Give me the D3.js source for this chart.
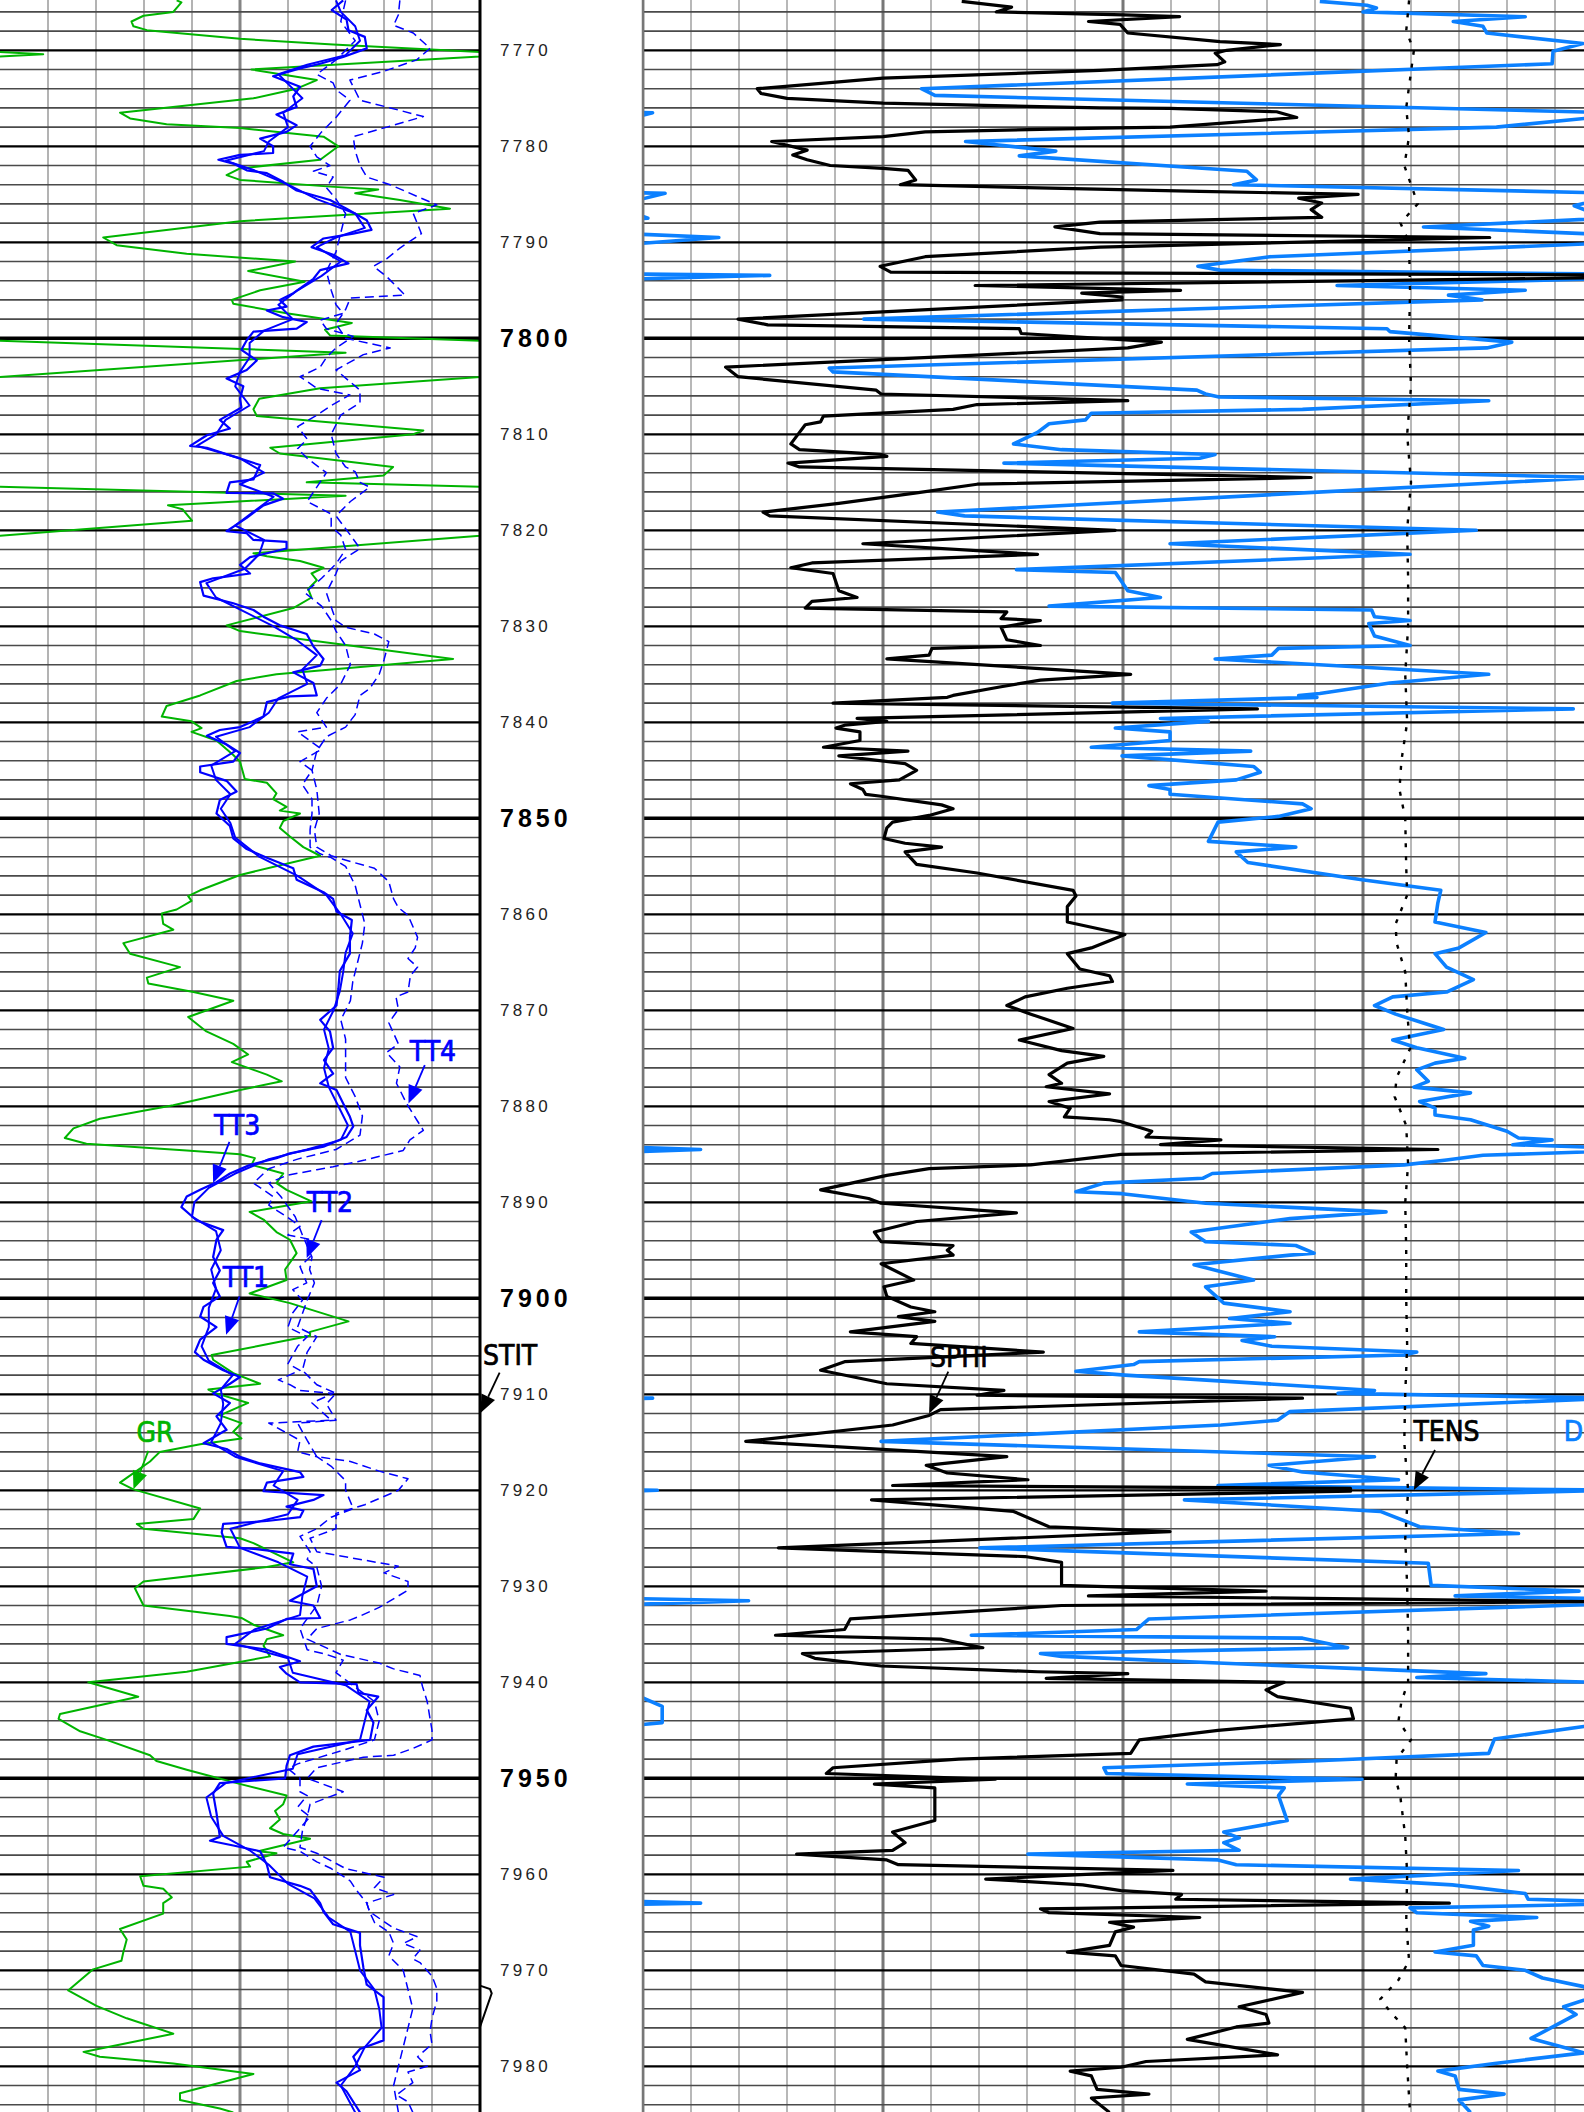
<!DOCTYPE html>
<html><head><meta charset="utf-8">
<script src="https://cdn.jsdelivr.net/npm/d3@7"></script>
<style>html,body{margin:0;padding:0;background:#fff;overflow:hidden}</style>
</head><body><svg id="chart" width="1584" height="2112" xmlns="http://www.w3.org/2000/svg"></svg>
<script>
// ---------------- DATA (depth in ft, value in track units) ----------------
const depthRange = [7764.76, 7984.76];
const depthTicks = [7770,7780,7790,7800,7810,7820,7830,7840,7850,7860,7870,7880,7890,7900,7910,7920,7930,7940,7950,7960,7970,7980];

// Left track: GR (0-100, wraps with backup), TT1..TT4 (0-100)
const GR = [[7764.8,36.8],[7765.0,37.8],[7766.0,36.1],[7766.4,29.9],[7767.0,27.4],[7767.5,27.8],[7767.9,30.6],[7768.8,50],[7769.4,69.4],[7770.4,109],[7772.0,52.4],[7773.1,66],[7774.0,61.8],[7775.0,52.8],[7776.5,25],[7777.1,27.1],[7777.7,34.7],[7778.1,50],[7779.0,67.4],[7780.0,70.5],[7781.4,66.7],[7782.3,50],[7783.0,47.2],[7783.5,50],[7784.2,68.8],[7784.5,78.8],[7784.9,74],[7785.6,83.3],[7786.5,93.75],[7787.8,50],[7789.5,21.5],[7790.3,24.3],[7791.2,38.9],[7792.0,61.5],[7793.0,51.7],[7794.1,63.5],[7795.0,54.2],[7796.0,48.3],[7796.4,48.6],[7797.4,59.7],[7798.4,73.3],[7799.1,67.7],[7799.7,68.75],[7801.5,172],[7805.2,66.7],[7806.3,54],[7807.4,52.8],[7808.1,53.5],[7809.6,88.2],[7810.0,86.1],[7811.4,56.3],[7812.0,58.3],[7813.4,81.9],[7814.3,79.9],[7815.0,63.9],[7816.4,172],[7817.4,135],[7817.8,138],[7819.0,140],[7822.4,52.8],[7822.7,55.6],[7823.2,62.5],[7823.9,67.4],[7824.5,64.9],[7825.2,66],[7826.1,64.2],[7827.0,64.9],[7828.1,61.1],[7829.9,47.2],[7830.5,50],[7833.4,94.4],[7835.0,57.6],[7835.7,49.3],[7837.2,41.7],[7838.3,34.7],[7839.4,33.7],[7839.9,39.9],[7840.6,42],[7841.0,39.9],[7841.9,45.1],[7843.4,48.6],[7844.1,50],[7845.9,51],[7846.3,55.6],[7847.4,57.6],[7848.0,56.9],[7848.8,59.7],[7849.2,58.3],[7849.5,62.5],[7850.3,59],[7851.0,58.3],[7851.9,60.4],[7853.0,63.2],[7853.9,66.7],[7855.9,50],[7857.5,41.7],[7858.1,39.2],[7858.6,39.9],[7859.5,36.8],[7859.9,33.7],[7861.0,34],[7861.6,36.1],[7863.0,25.7],[7864.1,27.1],[7865.5,37.5],[7866.6,30.6],[7867.2,30.9],[7868.1,40.3],[7869.0,48.6],[7870.7,39.2],[7872.2,43],[7873.5,48.6],[7874.6,51.7],[7875.4,48.3],[7876.7,55.6],[7877.4,58.7],[7878.3,50],[7879.9,36.1],[7881.3,20.8],[7882.3,15.3],[7883.3,13.5],[7883.9,18],[7884.6,38.9],[7885,50],[7885.4,53.1],[7886.1,52.4],[7887,59],[7888,57.6],[7888.7,59.7],[7889.9,64.9],[7891,52],[7891.8,54.9],[7893.1,57.6],[7893.9,60.4],[7895.3,61.8],[7897,59.4],[7898.1,59.7],[7899.5,52],[7900.5,60.4],[7902.4,72.6],[7903.5,64.6],[7903.9,64.6],[7905,53.5],[7905.9,44.1],[7906.4,44.4],[7907.8,48.6],[7908.9,54.2],[7909.5,43.4],[7909.9,45],[7910.9,51.7],[7912.2,45.8],[7913,50.3],[7913.9,48.6],[7914.6,50.3],[7915.2,41.7],[7916,33.3],[7917,31.25],[7918.7,26.4],[7919.2,25],[7919.9,27.8],[7921.9,41.7],[7923.0,40.3],[7923.5,28.5],[7924,29.9],[7925.0,50],[7925.5,52.8],[7927.5,61.1],[7928,55.6],[7929.5,29.9],[7930.2,28.1],[7932,29.9],[7933.1,47.9],[7933.3,50.3],[7934,52.8],[7935.1,59],[7935.5,55.6],[7936.2,54.9],[7937.3,56.25],[7938.9,38.9],[7940,18.4],[7941.5,28.8],[7943.3,12.5],[7943.8,12.2],[7945.1,16.7],[7946,22.2],[7947.6,31.25],[7948.2,32.6],[7949.1,38.9],[7950.5,49.3],[7951.8,59.7],[7952.7,59],[7953.4,57.3],[7954.3,58.3],[7955.2,56.25],[7955.8,59],[7956.3,64.6],[7957.6,53.8],[7957.8,57.6],[7958.7,51.4],[7959.2,52.1],[7960.2,29.2],[7961.2,29.9],[7961.5,34],[7962.4,35.8],[7963,34],[7964.1,34],[7965.7,25],[7966.8,26.4],[7968.1,25.7],[7969,25.3],[7969.9,19.4],[7972.1,14.2],[7973.7,20.1],[7975,26.4],[7976.6,36.1],[7978.5,17.4],[7979.0,20.8],[7979.7,36.1],[7980.8,52.8],[7982.8,37.5],[7983.5,37.5],[7984.4,45.8],[7984.8,48.6]];

const TT1 = [[7764.8,71.5],[7765.8,69.1],[7766.8,72.2],[7767.9,72.6],[7768.6,76],[7769.8,76.4],[7770.7,71.5],[7771.4,66.7],[7771.9,62.5],[7772.7,56.9],[7773.8,62.5],[7774.8,61.1],[7775.9,61.8],[7776.7,57.6],[7777.8,61.8],[7778.5,59.7],[7779.2,54.2],[7780.0,56.9],[7780.7,56.9],[7780.9,50],[7781.4,45.5],[7781.8,48.6],[7782.5,51.4],[7782.8,55.6],[7783.7,59],[7784.6,61.8],[7785.1,65.3],[7785.6,68.75],[7786.5,72.2],[7787.7,76.4],[7788.7,77.4],[7789.1,73.6],[7789.6,67.4],[7790.5,64.9],[7791.3,69.4],[7792.2,72.6],[7792.9,66.7],[7793.8,65.3],[7795.3,61.1],[7796.0,58.3],[7796.7,59.7],[7797.1,55.6],[7797.8,59],[7798.3,63.9],[7799.0,61.8],[7799.3,52.8],[7800.2,51.4],[7801.2,50.3],[7802.3,53.5],[7803.3,51.4],[7804.2,47.2],[7805.0,50.7],[7806.3,50],[7807.2,50.3],[7808.5,45.8],[7809.4,47.9],[7810.1,43.1],[7811.2,39.6],[7811.4,43.1],[7812.3,48.6],[7813.2,54.2],[7814.7,52.8],[7815,47.9],[7816.1,47.2],[7816.15,56.9],[7816.7,59],[7817.4,54.9],[7818.7,51.4],[7820.1,47.2],[7820.3,51.4],[7821,52.8],[7821.2,59.7],[7821.9,59.7],[7822.8,52.1],[7823.6,50],[7824.5,52.1],[7825,44.4],[7825.4,41.7],[7826.8,42.4],[7827.6,48.6],[7828.3,52.8],[7829,54.9],[7829.9,58.3],[7830.8,63.9],[7832.1,65.3],[7833.4,67.4],[7834.1,66.7],[7834.8,61.1],[7835.9,65.3],[7837.2,66],[7837.3,60.4],[7837.9,55.6],[7839.4,54.9],[7840.5,50],[7840.8,45.8],[7841.4,43.1],[7842.3,47.2],[7843.2,50],[7844.1,48.6],[7844.6,41.7],[7845.2,41.7],[7846.1,47.2],[7847.2,49.3],[7848.1,45.8],[7849.5,45.1],[7850.8,47.9],[7852.1,48.6],[7853.2,51.4],[7854.1,55.6],[7855.2,61.1],[7856.4,61.8],[7857.7,67.4],[7858.4,69.4],[7859.7,70.1],[7860.6,73.3],[7862.4,72.9],[7864.1,72.9],[7865.9,70.8],[7867.7,70.5],[7869.5,70.1],[7871.0,66.7],[7872.2,68.75],[7873.9,69.4],[7875.2,67.5],[7876.6,69.4],[7877.6,66.7],[7878.3,70.1],[7879.7,71.5],[7881.1,72.9],[7882.1,73.6],[7883.2,72.2],[7884.2,67.4],[7884.9,60.4],[7885.4,57.6],[7886.1,52.1],[7887,47.9],[7887.9,45.1],[7888.7,41.7],[7889.4,38.9],[7890.5,37.8],[7891.9,41],[7892.9,46.5],[7893.9,45.1],[7895.7,44.4],[7897.1,45.8],[7898.4,44.4],[7899.8,45.8],[7900.9,42.4],[7901.9,41.7],[7903,45.1],[7904.3,41.7],[7905.6,40.6],[7906.4,42.4],[7907.5,46.5],[7908.2,50],[7908.9,47.9],[7909.9,44.4],[7910.9,47.9],[7912.3,45.1],[7913.7,47.2],[7915.1,42.4],[7915.7,47.2],[7916.5,50],[7917.2,54.2],[7918.1,62.5],[7918.6,63.2],[7919.2,55.6],[7920.1,54.9],[7920.5,67.4],[7921,65.3],[7921.7,59.7],[7922.1,63.2],[7922.8,62.5],[7923.2,55.6],[7923.5,46.5],[7924.4,46.2],[7925.9,47.2],[7926.1,52.8],[7926.6,61.1],[7927.7,60.4],[7928.2,65.3],[7930,66],[7931.5,60.4],[7932,65.3],[7933.3,66.7],[7933.4,59.7],[7934.4,55.6],[7935.3,47.2],[7936,47.2],[7936.6,55.6],[7937.8,62.5],[7938.4,58.3],[7939.1,59.7],[7940,62.5],[7940.2,74.3],[7941.1,74.7],[7941.5,78.8],[7942.9,76.4],[7944.2,77.8],[7946,77.1],[7946.7,65.3],[7947.6,60.4],[7948.7,59.7],[7950,59.4],[7950.5,45.8],[7951.6,44.4],[7953.6,45.1],[7956.1,45.8],[7956.5,43.75],[7957,48.6],[7957.6,54.2],[7959,55.6],[7960.3,56.25],[7961.2,62.5],[7961.6,64.6],[7963,66.7],[7963.9,67.4],[7965.2,69.4],[7966.1,75],[7967.4,75],[7969.7,75.7],[7971.5,76.4],[7972.8,79.9],[7974.6,79.9],[7977.3,79.9],[7978.2,75],[7979,73.6],[7980.4,75],[7981.7,70.1],[7982.6,72.2],[7984.8,75]];

const TT3 = [[7764.8,70],[7766,71],[7767.5,74],[7769,75],[7770.5,72],[7771.5,64],[7772.5,58],[7773.5,60],[7775,63],[7776.5,59],[7778,60],[7779.5,56],[7780.5,55],[7781.5,47],[7782.5,53],[7784,60],[7785.5,66],[7787,74],[7788.5,76],[7789.5,70],[7790.5,66],[7792,71],[7793.5,67],[7795,62],[7796.5,58],[7798,61],[7799.2,55],[7800.5,52],[7802,52],[7803.5,50],[7805,49],[7807,52],[7808.5,47],[7810,45],[7811.2,41],[7812.5,50],[7814,55],[7815.2,50],[7816.5,57],[7818,53],[7819.5,49],[7821,55],[7822.5,54],[7824,51],[7825.5,43],[7827,45],[7828.5,51],[7830,57],[7831.5,62],[7833,66],[7834.5,63],[7836,64],[7837.5,58],[7839,56],[7840.5,52],[7841.5,45],[7843,49],[7844.5,44],[7846,45],[7847.5,48],[7849,46],[7850.5,48],[7852,49],[7854,54],[7856,62],[7858,68],[7860,71],[7862,73.5],[7864,72],[7866,71.5],[7868,70.8],[7870,69.5],[7872,67.5],[7874,68.5],[7876,67.5],[7878,68.5],[7880,70.5],[7882,72.5],[7883.5,71],[7884.5,64],[7885.5,56],[7887,49],[7888.5,43.5],[7890,40.5],[7891.5,40],[7893,45],[7895,46],[7897,44],[7899,45],[7901,43.5],[7903,43.5],[7905,42],[7906.5,43.5],[7908,48.5],[7909.5,46],[7911,46.5],[7913,46],[7915,44],[7916.5,49],[7918,59],[7919.5,57],[7921,62],[7922.5,60],[7924,48],[7926,50],[7927.5,58],[7929,64],[7931,63],[7933,62.5],[7934.5,53],[7936,49],[7937.5,60],[7939,61],[7940.3,72],[7942,77],[7944,76],[7946,75],[7947.5,62],[7949,61],[7950.5,47],[7952,43],[7954,44],[7956,46.5],[7957.5,52],[7959,56],[7961,60],[7962.5,65.5],[7964.5,68.5],[7966,73],[7968,74],[7970,75],[7972,78],[7974,79],[7976,79.5],[7978,76],[7980,74],[7982,71],[7984.8,74]];

const TT2 = [[7764.8,72],[7767,71],[7769,74],[7771,70],[7772.5,66],[7773.4,69.4],[7774.1,70],[7775.2,72.9],[7777,70],[7778.5,67],[7780,64.6],[7781.1,66],[7782,68.75],[7782.6,65.3],[7783.2,69.4],[7784.3,68],[7785.5,70],[7787,72],[7789,71],[7791,70],[7793,68],[7795,69],[7796.5,70],[7797.4,71.5],[7798.1,66.7],[7799,68],[7799.8,73.6],[7801,70],[7802,68],[7803,66.7],[7804,62.5],[7805.2,66],[7805.9,72.9],[7807,69],[7808,66],[7809.2,62],[7810.5,64],[7811.5,62],[7812.5,64],[7814,68],[7815.5,66],[7817,64],[7818.3,69],[7819.6,69],[7820.5,71],[7822,72],[7823.5,70],[7825,67],[7826.5,63.5],[7827.9,67],[7829.4,69],[7830.5,70],[7832,72],[7834,73],[7836,71],[7837.5,68],[7839,66],[7840.5,68],[7841,62],[7842.8,67],[7844.1,62.5],[7845,65],[7846.5,63],[7848,65],[7849.5,65],[7851.2,64.6],[7853,64.6],[7853.7,66.7],[7854.1,69],[7855,72],[7857,74],[7859,75],[7861,76],[7863,75.5],[7865,74.5],[7867,73.5],[7869,73],[7871,71],[7873,72],[7875,72],[7877,72],[7879,74],[7881,75.5],[7883,75],[7884.5,70],[7885.5,62],[7886.5,56],[7888,52.8],[7889.4,56.9],[7890.3,56],[7891.5,59.7],[7892.5,62.5],[7893.4,60],[7893.9,65],[7895.7,64.6],[7896.7,62.5],[7898.4,63.9],[7899.1,61],[7900.2,63],[7901.5,61],[7903,60],[7904,64],[7905,62],[7906.8,60],[7907.5,62.5],[7908.5,58],[7909,60.4],[7909.6,62.5],[7909.9,69.4],[7910.9,65],[7912.7,69],[7913,56],[7914.8,62.5],[7916,62],[7916.5,66],[7917.5,69],[7919,72],[7920,72],[7921.9,73.6],[7922.8,69],[7924,66],[7924.8,62.5],[7926.4,64.6],[7927.2,64],[7928,66],[7930,67],[7932,66],[7934.4,62.5],[7936.6,64],[7937.1,68],[7937.7,71.5],[7939,70],[7940.5,74],[7942,78],[7944,79],[7946,78],[7947,72],[7948.5,62],[7949,60],[7950,62.5],[7951.4,62.5],[7951.8,64],[7953,62],[7954,64.6],[7955.5,62],[7957.2,59],[7957.6,62.5],[7958.7,66],[7959.4,69],[7960.7,73],[7961.5,74],[7963,76.4],[7963.9,77],[7965,78],[7966,81],[7967.2,82],[7968.5,81],[7970,84],[7972,85],[7974,86],[7976,85],[7978,84],[7980,83],[7982,82],[7984.8,83]];

const TT4 = [[7764.8,83.3],[7766.3,83],[7767.4,82],[7768.2,86.1],[7769.8,89.6],[7771,86.8],[7772.2,79.9],[7773.1,72.9],[7775.2,75],[7776.0,81.3],[7776.9,88.2],[7778,80.6],[7779,73.6],[7780.5,74],[7782,75],[7783.2,76.4],[7784.0,81.3],[7785.2,86.8],[7786.1,91],[7787,86.1],[7789.1,87.8],[7790.6,83.3],[7791.7,80.6],[7792.5,77.8],[7793.6,80.6],[7794.6,82.6],[7795.5,84.4],[7795.8,73],[7797,72],[7798.5,70],[7800,72],[7801,81.3],[7801.7,75.7],[7803.3,70],[7805.4,75],[7806.7,75],[7808,71],[7810,69],[7812,70],[7813.4,72],[7813.9,74],[7815,75],[7815.5,77],[7817,73],[7818.5,70],[7820.5,73],[7821.9,75],[7823.2,71],[7824.5,70],[7826.5,68],[7828,69],[7829.4,70],[7830.1,72],[7830.8,78],[7831.6,81],[7833.5,80],[7835,79],[7836.5,77],[7837.2,75],[7839.2,74],[7840.5,72],[7841.5,68],[7843,66],[7845,65],[7847,66],[7849.5,66.5],[7851.2,65.5],[7853,66],[7853.9,69],[7854.5,73],[7855.2,78],[7856.6,81],[7858.4,82],[7859.3,83],[7860.1,85],[7862.4,87],[7863.5,86.5],[7864.6,85],[7865.5,87],[7866.4,85.5],[7868.1,85],[7868.6,82.5],[7869.9,83],[7871.3,81],[7873.5,83],[7874.4,80.5],[7875.9,83.3],[7877.6,82.6],[7879.7,84.7],[7881.4,86.8],[7882.5,88.2],[7883.5,85.4],[7884.6,84],[7885.6,76],[7886.3,69.4],[7886.6,66],[7887.2,59.7],[7888,56],[7889.4,58.5],[7891.5,61.5],[7893.4,63],[7895.7,65],[7897,64.5],[7898.4,65.5],[7900.2,64],[7903,62],[7904,66],[7905.6,64],[7907.5,63],[7909,66],[7909.9,70],[7911,68],[7912.7,70],[7913,62],[7914.8,64],[7916.5,66],[7917,73],[7918,79],[7918.8,85],[7920,83],[7921.5,76],[7922.4,70],[7924,70],[7925,64.6],[7926.4,66],[7927.9,83],[7928.6,80],[7929.5,85],[7930.4,85],[7932.2,79],[7933.1,75],[7933.5,73],[7934.4,66],[7935.5,64],[7937.1,71],[7938,79],[7938.6,82],[7939.3,87.5],[7940.4,88],[7942,89],[7943.8,89.6],[7945,90],[7946,90],[7946.9,86],[7947.6,82],[7947.8,75.7],[7948.9,66],[7950,64],[7951.4,71.5],[7952.7,64.6],[7954,64],[7955.5,63],[7957.2,62.5],[7957.8,66],[7958.7,69.4],[7959.4,72],[7960.3,80],[7961.4,78],[7962.1,82],[7963,76.4],[7963.9,77],[7965.6,82],[7966.5,87],[7967.2,84],[7967.9,87.5],[7968.8,86],[7969.2,87.5],[7970.6,90],[7971.9,91],[7973.2,91],[7975,90],[7976.4,89.6],[7977.7,90],[7979,87],[7980,89],[7980.6,85],[7981.7,86],[7983,82.6],[7983.7,85],[7984.8,86]];

// Right track: SPHI, DT (wraps with backup), TENS (0-100)
const SPHI = [[7764.9,33.2],[7765.5,38.4],[7766.0,36.8],[7766.3,50.1],[7766.5,55.9],[7767.0,46.4],[7767.3,49.7],[7768.2,50.5],[7769.1,60.1],[7769.4,66.4],[7770,60.8],[7770.3,59.6],[7771.2,60.6],[7771.5,59.8],[7772.1,47.6],[7772.9,25],[7774,11.9],[7774.5,12.3],[7775,15],[7775.5,25],[7776.0,47.6],[7776.05,54.9],[7776.4,66],[7777,68.1],[7778,54.9],[7778.1,47.6],[7778.5,29.4],[7779,25],[7779.5,13.4],[7780.4,17.1],[7780.9,15.6],[7781.4,17.1],[7782,19.5],[7782.3,25],[7782.5,27.6],[7783.5,28.4],[7784.0,26.8],[7784.7,58],[7785,74.5],[7785.4,68.3],[7785.9,70.7],[7786.6,69.6],[7787.4,70.7],[7787.9,47.6],[7788.4,42.9],[7788.7,45],[7789.1,47.6],[7789.5,88.2],[7790.5,47.6],[7791.5,29.4],[7792.5,24.7],[7793.1,25.8],[7793.4,99.5],[7793.7,99.5],[7794.5,34.6],[7795,56],[7795.3,45.7],[7795.7,49.9],[7796,49.9],[7798,9.9],[7798.6,13],[7799,39.2],[7799.5,39.4],[7800.4,54],[7801,50.5],[7803,8.6],[7804,9.9],[7805.4,24.3],[7805.8,24.8],[7806.5,50.5],[7806.9,34.8],[7807.4,32.3],[7808.1,18.8],[7808.7,18.5],[7809,16.9],[7809.8,16.3],[7811,15.4],[7811.6,16.3],[7812.1,24.8],[7812.3,25.4],[7813,15.1],[7813.4,16.3],[7814.5,69.6],[7815.2,34.8],[7816.1,28.5],[7817.2,20.4],[7818.1,12.5],[7818.5,13.2],[7820,49.2],[7821.4,22.9],[7822.5,41.1],[7823.4,17.6],[7823.9,15.4],[7824.5,19.8],[7826.3,20.4],[7827,22.3],[7827.4,17.6],[7828.1,16.9],[7828.5,37.9],[7829.2,37.3],[7829.4,41.4],[7830.1,37.3],[7831.4,37.9],[7832,41.4],[7832.3,30.1],[7833,29.8],[7833.4,25.4],[7835,50.8],[7835.6,41.4],[7836.3,37.3],[7837.2,32.3],[7837.4,31.7],[7838,19.8],[7838.6,64],[7839.6,22.3],[7839.9,25.4],[7840.3,21],[7840.6,20.1],[7841,22.6],[7841.9,22.6],[7842.6,18.8],[7843,27.6],[7843.5,20.4],[7844.3,27.3],[7845,28.5],[7846,26.7],[7846.4,21.6],[7847,22.9],[7847.5,23.2],[7847.7,24.8],[7848.6,31.1],[7849,32.3],[7849.7,29.8],[7850.4,26],[7851,25.4],[7852.1,25.1],[7852.6,27.3],[7853,31.1],[7853.5,27.3],[7854.8,28.5],[7855.7,34.8],[7857.5,44.8],[7858.1,45.1],[7859.2,44.2],[7860.8,44.2],[7862.1,50.2],[7863.5,46.7],[7864.1,44.2],[7865.7,45.5],[7866.4,48.6],[7867,48.9],[7867.7,44.2],[7868.6,39.8],[7869.5,37.9],[7870.4,40.4],[7871.9,44.8],[7873.1,39.2],[7874.2,43.6],[7874.8,48],[7875.5,44.2],[7876.7,42.3],[7877.6,43.6],[7877.96,42],[7878.7,48.6],[7879.5,42.3],[7880.2,44.5],[7881.1,43.9],[7881.4,48.6],[7881.6,49.8],[7882.6,53],[7883.2,52.4],[7883.5,60.2],[7884,53.9],[7884.5,82.8],[7885,49.8],[7886.1,40.4],[7886.5,29.8],[7887.2,25.4],[7888.7,18.5],[7889.6,23.5],[7890.1,24.8],[7891.1,38.9],[7892,28.5],[7893.1,24.1],[7894.1,24.8],[7894.5,32.3],[7895,31.7],[7895.5,32.3],[7896.4,24.8],[7898.1,28.2],[7898.8,25.1],[7899.8,25.4],[7900.9,27.9],[7901.4,30.4],[7901.9,26.6],[7902.4,30.4],[7903.5,21.6],[7904,28.5],[7904.7,27.9],[7905.6,41.7],[7906.6,21],[7907.5,18.5],[7908.9,25.4],[7909.6,37.6],[7910.1,34.8],[7910.4,68.7],[7911.6,31],[7912.2,29.8],[7913.2,26],[7914.9,10.7],[7916.5,37.9],[7917.4,29.5],[7918.2,31.7],[7918.9,40.1],[7919.5,26],[7919.8,73.7],[7920.1,73.7],[7921,23.8],[7922.2,38.6],[7923.8,42.3],[7924.3,54.9],[7926,14.1],[7926.9,39.8],[7927.5,43.6],[7929.9,43.6],[7930.5,64.9],[7931,46.4],[7931.6,99.5],[7932,43.6],[7933.4,21.6],[7934.5,21],[7935.1,13.8],[7935.5,31],[7936.4,35.4],[7937,16.6],[7937.5,17.9],[7938.3,24.8],[7938.9,41.1],[7939.1,50.5],[7939.6,42],[7940,66.8],[7940.8,64.9],[7941.5,66.1],[7942.7,73.7],[7943.8,74],[7945,59.9],[7946,51.7],[7947.4,50.8],[7948,32.9],[7948.9,19.8],[7949.5,19.1],[7950.1,36.7],[7950.6,24.1],[7951,30.4],[7954.4,30.4],[7955.6,26],[7956.7,27.3],[7957.5,26],[7957.9,16],[7958.5,25.4],[7959,26.6],[7959.6,55.2],[7960.5,35.7],[7961.1,45.8],[7961.7,49.8],[7962.1,56.1],[7962.6,55.5],[7963,84],[7963.6,41.4],[7964,42.3],[7964.5,58],[7965,48.6],[7965.5,51.1],[7966,49.2],[7967.4,48.6],[7968.1,44.2],[7968.5,49.2],[7969.5,49.8],[7970.4,57.4],[7971.2,58.6],[7972.3,68.7],[7973.8,62.1],[7974.6,64.9],[7975.5,65.2],[7975.9,61.8],[7977.2,56.7],[7978.8,66.1],[7979.5,52.4],[7980.1,49.8],[7980.5,44.5],[7981,46.7],[7982.4,47.3],[7982.9,52.7],[7983.3,46.7],[7984.8,48.6]];

const DT = [[7764.9,70.5],[7765.3,75.4],[7765.6,76.4],[7766,75],[7766.5,91.9],[7767,84.4],[7767.5,87.5],[7768.2,87.9],[7769.3,97.9],[7770.1,94.8],[7771.4,94.7],[7774,29],[7774.7,30.4],[7776.5,101],[7777,99],[7778,88.9],[7779.5,33.6],[7780.5,43],[7781,39.2],[7782.6,62.9],[7783.5,63.9],[7784,61.5],[7784.9,102.3],[7786.2,97],[7787.5,100.5],[7788.4,81.3],[7789.5,107.9],[7790.1,100],[7791.5,65.3],[7792.5,57.8],[7792.9,60.1],[7793.45,113.2],[7794.5,72.3],[7795,91.9],[7795.5,83.9],[7796,87.4],[7798,23],[7799,77.5],[7799.3,77.8],[7800.4,90.5],[7801,87.9],[7803.1,19.4],[7803.5,19.8],[7805.4,57.7],[7805.8,58.6],[7806.1,59.9],[7806.5,88.1],[7807.4,68.7],[7807.8,46.7],[7808.5,46.1],[7808.9,42.3],[7809.8,41.1],[7811,38.6],[7811.6,43.6],[7812.1,59.6],[7812.5,58],[7813,37.6],[7814.5,99.5],[7818.1,30.7],[7818.5,33.5],[7820,86.8],[7821.4,54.9],[7822.5,79.9],[7824.1,38.9],[7824.4,49.2],[7825.4,49.9],[7826.3,50.5],[7827,53.9],[7827.9,42.3],[7828.3,75.9],[7829,76.2],[7829.4,79.9],[7829.7,75.6],[7831,76.2],[7832,79.9],[7832.3,66.2],[7833,65.5],[7833.4,59.6],[7835,88.1],[7835.9,77.8],[7837,70.5],[7837.2,68.3],[7837.4,70.2],[7838,48.9],[7838.6,96.9],[7839.6,53.9],[7839.9,58.9],[7840.6,49.2],[7841,54.9],[7841.9,54.9],[7842.6,46.7],[7843,63.3],[7843.5,49.9],[7844.6,63.6],[7845.2,64.3],[7846,61.8],[7846.6,52.7],[7847,54.9],[7847.5,54.9],[7848.5,68.7],[7849,69.6],[7849.8,66.2],[7850.4,59.9],[7851,59.6],[7852.4,58.9],[7853,68],[7853.5,61.8],[7854.6,63],[7856.4,74.9],[7857.5,83.1],[7858.8,82.8],[7860.8,82.5],[7861.9,87.8],[7863.5,85],[7864.1,82.5],[7865.5,83.7],[7866.8,86.5],[7868.1,83.7],[7868.6,78.1],[7869.5,76.2],[7870.4,78.4],[7871.3,81.2],[7872,83.4],[7873.1,78.1],[7873.9,80.6],[7875,85.6],[7875.5,82.5],[7876.2,80.6],[7877.4,81.8],[7878,80.3],[7878.6,86.2],[7879.5,80.9],[7880.2,82.5],[7880.9,82.5],[7881.4,86.2],[7882.6,90],[7883.3,91.2],[7883.5,94.7],[7884,90.6],[7884.5,106],[7885.1,87.5],[7885.6,83.7],[7886.1,79.3],[7887,59.3],[7887.5,58.3],[7888,48],[7888.9,45.1],[7889.1,49.9],[7890.1,58.6],[7891,77.4],[7891.7,67.4],[7892.2,63.6],[7893.1,57.1],[7894.1,58.6],[7894.5,68],[7895.3,69.9],[7895.5,67.4],[7896.5,57.4],[7898.1,63.6],[7898.8,58.6],[7900.5,60.5],[7901.4,67.4],[7902.1,61.1],[7902.6,67.4],[7903.5,51.7],[7904,65.8],[7904.4,62.4],[7905,65.5],[7905.6,80.6],[7905.9,79.3],[7906.6,51.7],[7906.9,51.1],[7907.6,45.1],[7908,50.2],[7909.6,76.2],[7909.9,72.4],[7910.4,101],[7911.8,67.4],[7912.7,66.1],[7913.2,60.2],[7914.9,24.8],[7916.5,76.2],[7917.4,65.2],[7918.1,68.7],[7918.9,78.7],[7919.5,59.9],[7920,101.5],[7921,56.4],[7922.2,76.8],[7923.8,80.9],[7924.5,91.2],[7926,35.1],[7927.6,81.8],[7929.9,82.1],[7930.5,97.5],[7931,84.6],[7931.5,111],[7933.4,52.7],[7934.5,51.4],[7935.1,34.2],[7935.4,68.7],[7936.4,73.4],[7937,41.4],[7937.3,43.6],[7938.1,62.4],[7939.1,87.8],[7939.5,80.6],[7940,99],[7941,98.5],[7942.5,102],[7944.2,102],[7944.6,98],[7945.9,88.7],[7947.4,88.1],[7948.2,69.6],[7948.9,48],[7949.5,48.3],[7950.1,74.9],[7950.6,56.7],[7951,66.8],[7951.8,66.2],[7954.4,67.1],[7955.6,60.5],[7956.2,62.1],[7956.7,60.5],[7957.5,62.1],[7957.9,40.1],[7958.5,59.9],[7959,61.8],[7959.6,91.2],[7960.5,73.7],[7961.1,84.3],[7962,91.9],[7962.6,92.2],[7963,106],[7963.5,79.9],[7964,80.6],[7964.5,93.1],[7964.9,86.2],[7965.4,88.1],[7965.8,86.5],[7967.4,86.5],[7968.1,82.5],[7968.5,86.8],[7969.5,87.5],[7970,91.9],[7970.8,93.7],[7971.7,98],[7972.8,99],[7973.8,95.9],[7974.6,97.2],[7977.1,92.5],[7978.6,98],[7979.7,88.7],[7980.5,82.8],[7981,84.6],[7982.4,85],[7982.9,89.7],[7983.5,85],[7984.8,86.2]];

const TENS = [[7764.8,79.8],[7768,79.5],[7770,80.3],[7773,79.9],[7776,79.5],[7779,79.8],[7782,79.3],[7784,80],[7786,80.7],[7788,78.9],[7790,79.8],[7795,79.9],[7800,79.8],[7805,80],[7810,79.6],[7815,80],[7820,79.6],[7825,79.7],[7830,79.7],[7835,79.4],[7840,79.6],[7844,79],[7847,78.8],[7850,79.4],[7855,79.5],[7858,79.6],[7861,78.4],[7863,78.5],[7866,79.4],[7870,79.6],[7874,79.9],[7877,78.5],[7879,78.3],[7882,79.5],[7886,79.7],[7890,79.4],[7895,79.5],[7900,79.5],[7905,79.6],[7910,79.4],[7915,79.3],[7920,79.7],[7925,79.4],[7930,79.6],[7935,79.7],[7940,79.7],[7942,79],[7944,78.7],[7946,80],[7948,78.5],[7950,78.4],[7952,78.9],[7956,79.4],[7960,79.6],[7965,79.5],[7969,79.8],[7971,78.7],[7973,76.8],[7974.5,78],[7976,79.4],[7980,79.6],[7984.8,79.9]];

// Curve labels: [depth, value] for label baseline, arrow tail and arrow tip
const leftLabels = [
  {text:'TT4', color:'#0000ff', label:[7875.3,90.2], tail:[7875.7,88.5], tip:[7879.7,85.1]},
  {text:'TT3', color:'#0000ff', label:[7883.0,49.4], tail:[7883.7,47.8], tip:[7888.0,44.4]},
  {text:'TT2', color:'#0000ff', label:[7891.0,68.75], tail:[7891.85,67.0], tip:[7895.8,63.9]},
  {text:'TT1', color:'#0000ff', label:[7898.8,51.25], tail:[7899.8,49.9], tip:[7903.8,47.1]},
  {text:'GR', color:'#00b400', label:[7915.0,32.3], tail:[7915.9,30.9], tip:[7919.9,27.8]}
];
const rightLabels = [
  {text:'SPHI', color:'#000', label:[7907.2,32.9], tail:[7907.65,31.8], tip:[7912.0,29.8]},
  {text:'TENS', color:'#000', label:[7914.9,83.7], tail:[7915.8,82.5], tip:[7919.96,80.3]},
  {text:'D', color:'#0b80ff', label:[7914.9,95.9], anchor:'start'}
];
const stitMark = {text:'STIT', label:7906.95, tail:7907.75, tip:7911.95};
const bracketMark = [[7971.6,0],[7971.95,10],[7972.4,11.7],[7975.9,0]];

// ---------------- DRAWING ----------------
const W = 1584, H = 2112;
const svg = d3.select('#chart');
const y = d3.scaleLinear().domain(depthRange).range([0, H]);
const leftTrack = [0, 480], depthTrack = [480, 643], rightTrack = [643, 1603];
const xL = d3.scaleLinear().domain([0,100]).range(leftTrack);
const xR = d3.scaleLinear().domain([0,100]).range(rightTrack);

svg.append('rect').attr('width',W).attr('height',H).attr('fill','#fff');
const defs = svg.append('defs');
defs.append('clipPath').attr('id','clipL').append('rect')
  .attr('x',leftTrack[0]).attr('y',0).attr('width',leftTrack[1]-leftTrack[0]).attr('height',H);
defs.append('clipPath').attr('id','clipR').append('rect')
  .attr('x',rightTrack[0]).attr('y',0).attr('width',rightTrack[1]-rightTrack[0]).attr('height',H);

// grid
const grid = svg.append('g');
const vL = d3.range(0, 101, 10), vR = d3.range(0, 101, 5);
grid.selectAll('.vl').data(vL.filter(v=>v>0 && v<100)).enter().append('line')
  .attr('x1',d=>xL(d)).attr('x2',d=>xL(d)).attr('y1',0).attr('y2',H)
  .attr('stroke',d=>d%50===0?'#858585':'#a6a6a6').attr('stroke-width',d=>d%50===0?3:1.7);
grid.selectAll('.vr').data(vR).enter().append('line')
  .attr('x1',d=>xR(d)).attr('x2',d=>xR(d)).attr('y1',0).attr('y2',H)
  .attr('stroke',d=>d===0?'#7a7a7a':(d%25===0?'#777':'#a0a0a0'))
  .attr('stroke-width',d=>d===0?2.5:(d%25===0?3:1.5));
const hDepths = d3.range(7766, 7985, 2);
[[leftTrack[0],leftTrack[1]],[rightTrack[0],rightTrack[1]]].forEach(([a,b])=>{
  grid.append('g').selectAll('line').data(hDepths).enter().append('line')
    .attr('x1',a).attr('x2',b).attr('y1',d=>y(d)).attr('y2',d=>y(d))
    .attr('stroke',d=>d%10===0?'#000':'#4a4a4a')
    .attr('stroke-width',d=>d%50===0?3.4:(d%10===0?2.2:1.6));
});

// curve helper
function curve(track, data, opts, offset){
  const xs = track==='L'?xL:xR;
  const ln = d3.line().x(d=>xs(d[1]-(offset||0))).y(d=>y(d[0]));
  const p = svg.append('path').attr('clip-path', track==='L'?'url(#clipL)':'url(#clipR)')
    .attr('d', ln(data)).attr('fill','none')
    .attr('stroke',opts.color).attr('stroke-width',opts.width)
    .attr('stroke-linejoin','round').attr('stroke-linecap','butt');
  if (opts.dash) p.attr('stroke-dasharray',opts.dash);
  return p;
}

// left track curves
curve('L', GR, {color:'#00b400', width:2});
curve('L', GR, {color:'#00b400', width:2}, 100);   // backup (wrap)
curve('L', TT2, {color:'#0000ff', width:1.5, dash:'9,5'});
curve('L', TT4, {color:'#0000ff', width:1.5, dash:'9,5'});
curve('L', TT3, {color:'#0000ff', width:2});
curve('L', TT1, {color:'#0000ff', width:2.2});

// right track curves
curve('R', DT, {color:'#0b80ff', width:3.6});
curve('R', DT, {color:'#0b80ff', width:3.6}, 100); // backup (wrap)
curve('R', TENS, {color:'#000', width:2.4, dash:'4,9'});
curve('R', SPHI, {color:'#000', width:3.2});

// depth track
const dg = svg.append('g');
dg.append('rect').attr('x',depthTrack[0]).attr('y',0).attr('width',depthTrack[1]-depthTrack[0]).attr('height',H).attr('fill','#fff');
dg.append('line').attr('x1',depthTrack[0]).attr('x2',depthTrack[0]).attr('y1',0).attr('y2',H)
  .attr('stroke','#000').attr('stroke-width',3);
dg.append('line').attr('x1',depthTrack[1]).attr('x2',depthTrack[1]).attr('y1',0).attr('y2',H)
  .attr('stroke','#777').attr('stroke-width',2.5);
dg.selectAll('text').data(depthTicks).enter().append('text')
  .attr('x', depthTrack[0]+20).attr('y', d=>y(d)).attr('dy','0.36em')
  .attr('font-family','"Liberation Sans", Arial, sans-serif')
  .attr('font-size', d=>d%50===0?25:17)
  .attr('font-weight', d=>d%50===0?'bold':'normal')
  .attr('letter-spacing', d=>d%50===0?'4px':'3.3px')
  .attr('fill', d=>d%50===0?'#000':'#222')
  .text(d=>d);

// annotations
const labelFont = '"Liberation Sans Narrow", "DejaVu Sans Condensed", "Roboto Condensed", sans-serif';
function arrow(g, x1, y1, x2, y2, color){
  const dx = x2-x1, dy = y2-y1, len = Math.hypot(dx,dy), ux = dx/len, uy = dy/len;
  const L = 18, hw = 7.5;
  const bx = x2-ux*L, by = y2-uy*L;
  g.append('line').attr('x1',x1).attr('y1',y1).attr('x2',bx).attr('y2',by)
    .attr('stroke',color).attr('stroke-width',1.8);
  g.append('path').attr('d',`M${x2},${y2}L${bx+uy*hw},${by-ux*hw}L${bx-uy*hw},${by+ux*hw}Z`).attr('fill',color);
}
const ag = svg.append('g');
function label(x, yy, text, color, anchor){
  ag.append('text').attr('x',x).attr('y',yy)
    .attr('text-anchor',anchor||'middle').attr('font-family',labelFont)
    .attr('font-size',28).attr('fill',color)
    .attr('stroke',color).attr('stroke-width',0.7).text(text);
}
function drawLabels(list, xs){
  list.forEach(a=>{
    label(xs(a.label[1]), y(a.label[0]), a.text, a.color, a.anchor);
    if (a.tip) arrow(ag, xs(a.tail[1]), y(a.tail[0]), xs(a.tip[1]), y(a.tip[0]), a.color);
  });
}
drawLabels(leftLabels, xL);
drawLabels(rightLabels, xR);
// STIT marker on depth track border
label(depthTrack[0]+3, y(stitMark.label), stitMark.text, '#000', 'start');
arrow(ag, depthTrack[0]+19.6, y(stitMark.tail), depthTrack[0]+0.5, y(stitMark.tip), '#000');
// bracket marker
ag.append('path').attr('d', d3.line().x(d=>depthTrack[0]+d[1]).y(d=>y(d[0]))(bracketMark))
  .attr('fill','none').attr('stroke','#000').attr('stroke-width',2);
</script>
</body></html>
